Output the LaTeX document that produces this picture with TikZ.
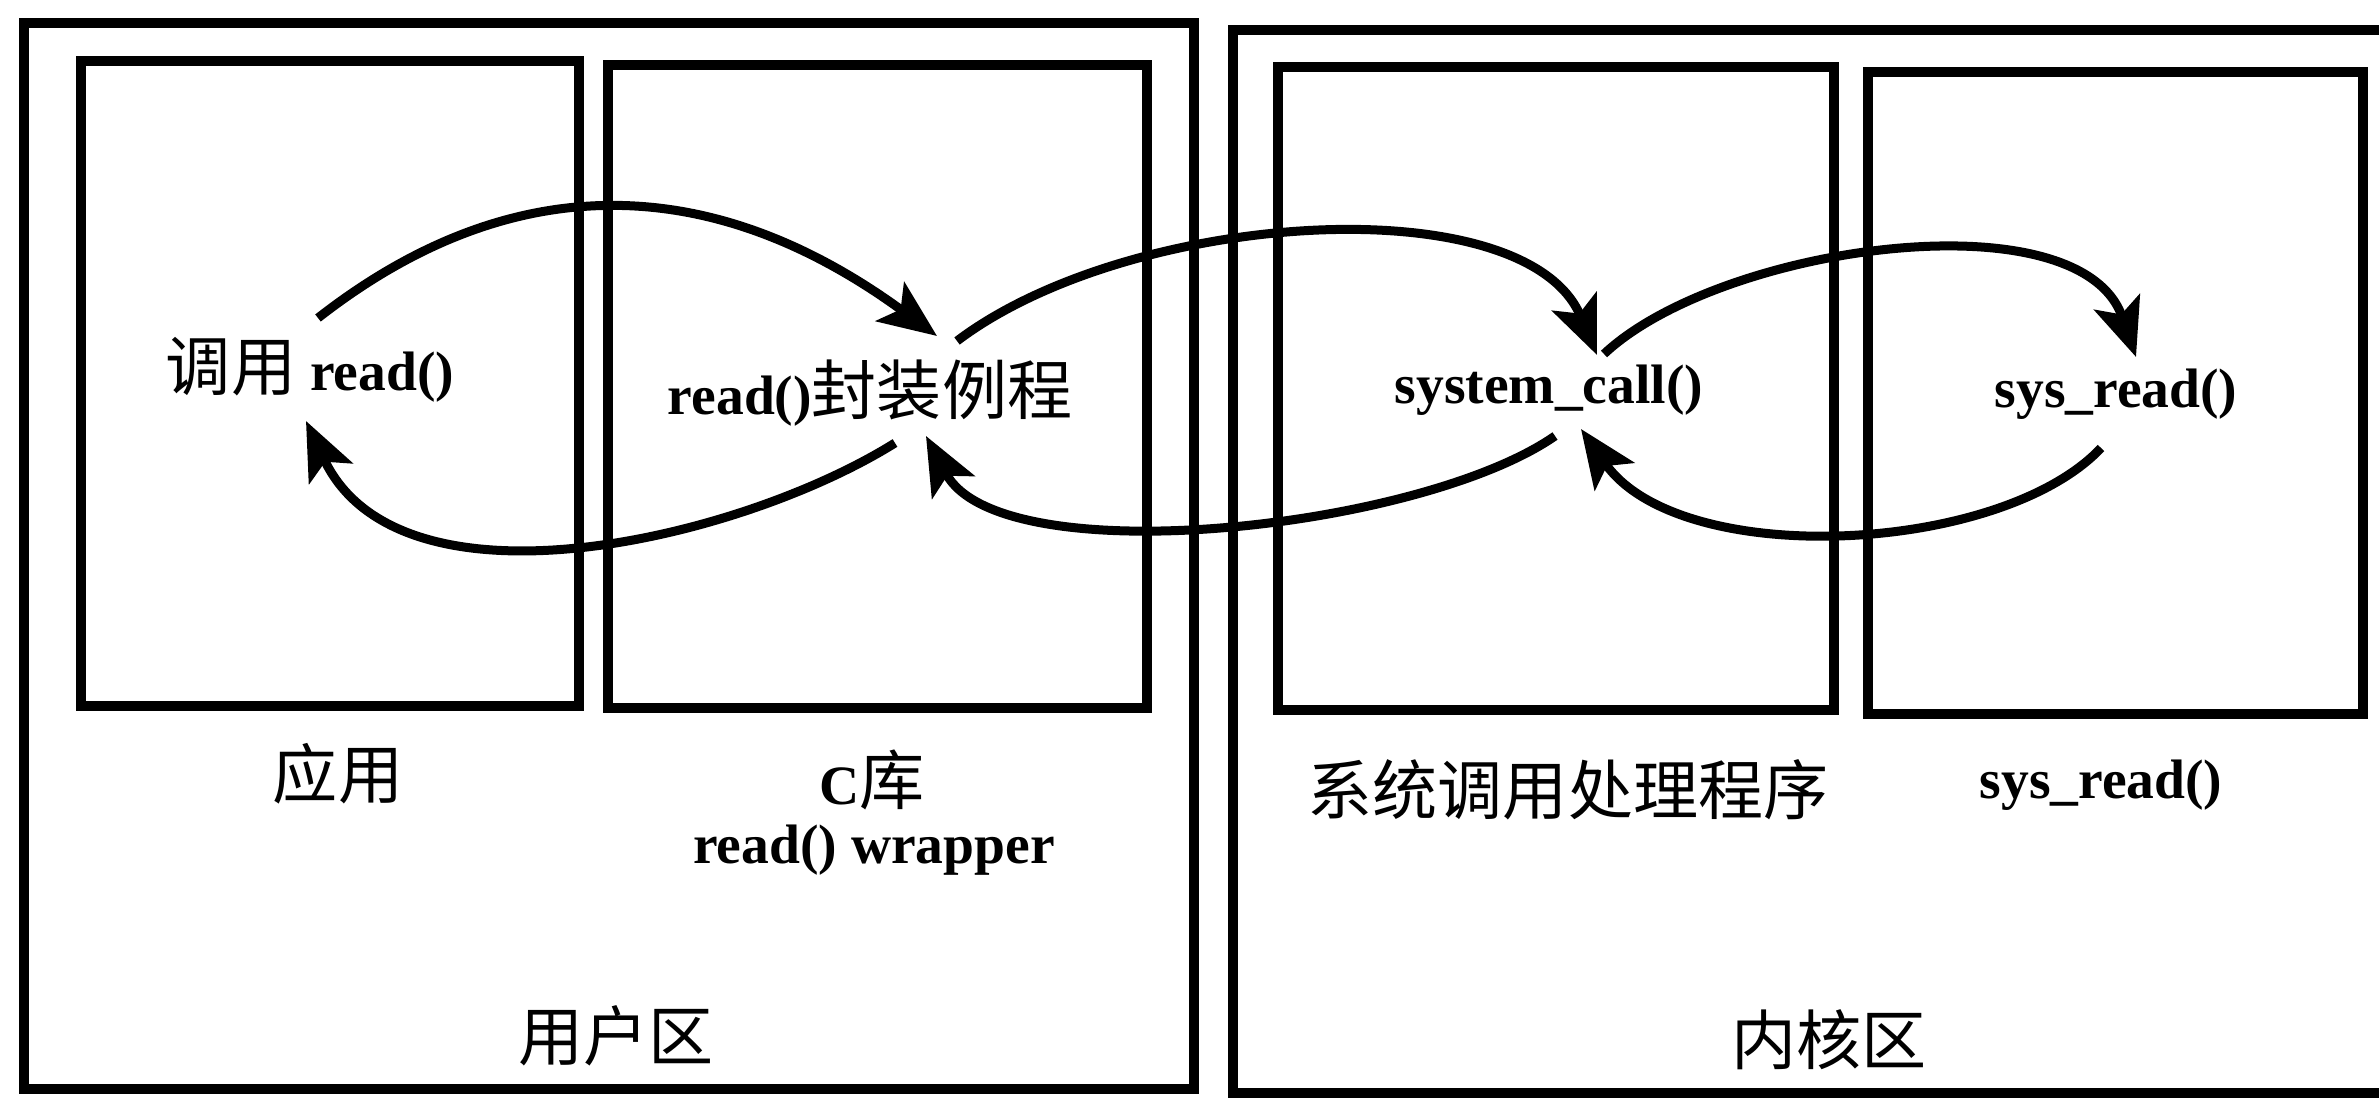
\documentclass[tikz,border=0pt]{standalone}
\usepackage{fontspec}
\setmainfont{Liberation Serif}
\newfontfamily\cjk{Noto Sans CJK SC}
\usetikzlibrary{arrows.meta,calc}
\newcommand\zh[1]{{\cjk\mdseries\fontsize{18.5}{22}\selectfont #1}}
\begin{document}
\begin{tikzpicture}[x=0.01cm,y=-0.01cm,
  box/.style={draw, line width=0.1cm, inner sep=0pt, outer sep=0pt},
  lbl/.style={font=\fontsize{15.8}{19}\selectfont\bfseries, inner sep=0pt},
  flow/.style={line width=0.09cm, -{Stealth[length=0.58cm, width=0.48cm, inset=0.13cm]}}]
\fill[white] (0,0) rectangle (2379,1110);
\useasboundingbox (0,0) rectangle (2379,1110);
% outer regions (the kernel frame runs past the right edge of the picture)
\node[box, minimum width=11.70cm, minimum height=10.66cm] (user) at (609,556) {};
\node[box, minimum width=11.57cm, minimum height=10.63cm] (kern) at (1811.5,561.5) {};
% inner boxes
\node[box, minimum width=4.98cm, minimum height=6.45cm] (app) at (330,383.5) {};
\node[box, minimum width=5.39cm, minimum height=6.43cm] (clib) at (877.5,386.5) {};
\node[box, minimum width=5.56cm, minimum height=6.43cm] (sch) at (1556,388.5) {};
\node[box, minimum width=4.95cm, minimum height=6.42cm] (sysr) at (2115.5,393) {};
% texts in boxes
\node[lbl] (t1) at (310,370) {\zh{调用} read()};
\node[lbl] (t2) at (870,393) {read()\zh{封装例程}};
\node[lbl] (t3) at (1549,390) {system\_call()};
\node[lbl] (t4) at (2116,394) {sys\_read()};
% captions
\node[lbl] (l1) at (338,774) {\zh{应用}};
\node[lbl] (l2) at (872,780) {C\zh{库}};
\node[lbl] (l2b) at (874,850) {read() wrapper};
\node[lbl] (l3) at (1568,790) {\zh{系统调用处理程序}};
\node[lbl] (l4) at (2101,785) {sys\_read()};
\node[lbl] (u) at (616,1036) {\zh{用户区}};
\node[lbl] (k) at (1829,1040) {\zh{内核区}};
% call arrows
\draw[flow] ($(t1)+(8,-52)$) .. controls (510,168) and (710,170) .. ($(t2)+(67,-57)$);
\draw[flow] ($(t2)+(87,-52)$) .. controls (1130,210) and (1525,185) .. ($(t3)+(48,-35)$);
\draw[flow] ($(t3)+(55,-36)$) .. controls (1720,245) and (2080,195) .. ($(t4)+(20,-37)$);
% return arrows
\draw[flow] ($(t4)+(-15,54)$) .. controls (2000,555) and (1680,570) .. ($(t3)+(32,39)$);
\draw[flow] ($(t3)+(6,46)$) .. controls (1420,530) and (1000,575) .. ($(t2)+(56,43)$);
\draw[flow] ($(t2)+(25,50)$) .. controls (740,540) and (400,620) .. ($(t1)+(-4,51)$);
\end{tikzpicture}
\end{document}
